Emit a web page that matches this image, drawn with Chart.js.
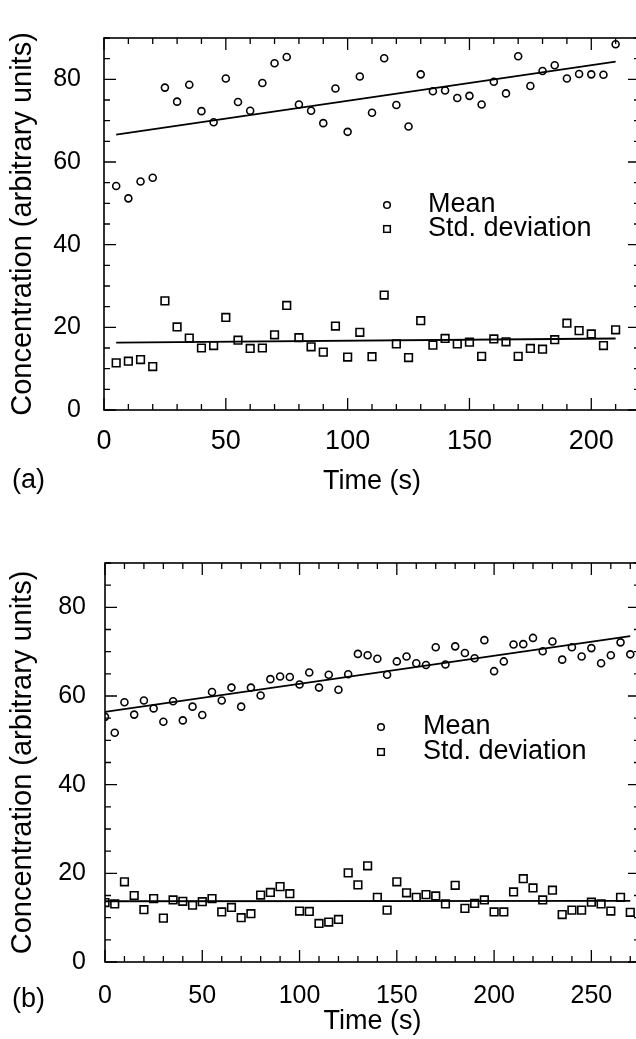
<!DOCTYPE html>
<html>
<head>
<meta charset="utf-8">
<title>Concentration vs time</title>
<script src="https://cdn.jsdelivr.net/npm/chart.js@4.4.1/dist/chart.umd.min.js"></script>
<style>
  html, body { margin: 0; padding: 0; background: #fff; overflow: hidden; }
  #wrap { position: relative; width: 636px; height: 1039px; overflow: hidden; }
  canvas { position: absolute; left: 0; }
</style>
</head>
<body>
<div id="wrap">
  <canvas id="chartA" width="660" height="510" style="top:0px"></canvas>
  <canvas id="chartB" width="660" height="519" style="top:520px"></canvas>
</div>
<script>
// panel (a)
var timeA = [5, 10, 15, 20, 25, 30, 35, 40, 45, 50, 55, 60, 65, 70, 75, 80, 85, 90, 95, 100, 105,
             110, 115, 120, 125, 130, 135, 140, 145, 150, 155, 160, 165, 170, 175, 180, 185, 190, 195, 200, 205, 210];
var meanA = [54.2, 51.2, 55.3, 56.2, 78.0, 74.6, 78.7, 72.3, 69.6, 80.2, 74.5, 72.4, 79.1, 83.9, 85.4, 73.9, 72.4, 69.4, 77.8, 67.3, 80.7,
             71.9, 85.1, 73.8, 68.6, 81.2, 77.1, 77.3, 75.5, 76.0, 73.9, 79.4, 76.6, 85.6, 78.4, 82.0, 83.4, 80.2, 81.3, 81.2, 81.1, 88.5];
var stdA  = [11.4, 11.8, 12.2, 10.5, 26.4, 20.1, 17.4, 15.0, 15.6, 22.4, 16.9, 14.9, 15.0, 18.2, 25.3, 17.5, 15.3, 14.0, 20.3, 12.8, 18.8,
             12.9, 27.8, 16.0, 12.7, 21.6, 15.7, 17.3, 16.0, 16.4, 13.0, 17.2, 16.5, 13.0, 14.9, 14.7, 17.0, 21.0, 19.2, 18.4, 15.6, 19.4];
var fitTimeA = [5, 210];
var fitMeanA = [66.6, 84.3];
var fitStdA  = [16.3, 17.3];
var xTicksA = [0, 50, 100, 150, 200];

// panel (b)
var timeB = [0, 5, 10, 15, 20, 25, 30, 35, 40, 45, 50, 55, 60, 65, 70, 75, 80, 85, 90, 95, 100, 105, 110, 115, 120, 125, 130,
             135, 140, 145, 150, 155, 160, 165, 170, 175, 180, 185, 190, 195, 200, 205, 210, 215, 220, 225, 230, 235, 240, 245, 250, 255, 260, 265, 270];
var meanB = [55.3, 51.7, 58.6, 55.8, 59.0, 57.2, 54.2, 58.8, 54.5, 57.6, 55.7, 60.9, 59.0, 61.9, 57.6, 61.9, 60.1, 63.8, 64.4, 64.3, 62.6, 65.3, 61.9, 64.8, 61.4, 64.9, 69.5,
             69.2, 68.4, 64.8, 67.8, 68.9, 67.4, 67.0, 71.0, 67.1, 71.2, 69.7, 68.5, 72.6, 65.6, 67.8, 71.6, 71.7, 73.1, 70.1, 72.3, 68.2, 71.0, 68.9, 70.8, 67.4, 69.2, 72.1, 69.4];
var stdB  = [13.4, 13.1, 18.1, 15.0, 11.8, 14.3, 9.9, 14.0, 13.7, 12.8, 13.6, 14.3, 11.3, 12.3, 10.0, 10.9, 15.1, 15.7, 17.0, 15.4, 11.5, 11.4, 8.7, 9.0, 9.6, 20.1, 17.4,
             21.7, 14.6, 11.7, 18.1, 15.6, 14.6, 15.2, 14.9, 13.1, 17.3, 12.1, 13.2, 14.0, 11.3, 11.3, 15.8, 18.8, 16.7, 14.0, 16.2, 10.7, 11.7, 11.7, 13.5, 13.1, 11.5, 14.6, 11.2];
var fitTimeB = [0, 270];
var fitMeanB = [56.4, 73.5];
var fitStdB  = [13.7, 13.8];
var xTicksB = [0, 50, 100, 150, 200, 250];

var yTicks = [0, 20, 40, 60, 80];

Chart.defaults.font.family = "'Liberation Sans', Arial, Helvetica, sans-serif";
Chart.defaults.color = '#000';

function pts(xs, ys) {
  return xs.map(function(v, i) { return {x: v, y: ys[i]}; });
}

// frame with inward ticks on all four sides, legend and panel letter
var panelDecor = {
  id: 'panelDecor',
  beforeDatasetsDraw: function(chart, args, o) {
    var ctx = chart.ctx, a = chart.chartArea, x = chart.scales.x, y = chart.scales.y;
    ctx.save();
    ctx.strokeStyle = '#000';
    ctx.lineWidth = 1.6;
    ctx.strokeRect(a.left, a.top, a.right - a.left, a.bottom - a.top);
    ctx.beginPath();
    for (var v = 0; v <= x.max; v += 10) {
      var px = x.getPixelForValue(v);
      var len = v % 50 === 0 ? 12 : 6;
      ctx.moveTo(px, a.bottom); ctx.lineTo(px, a.bottom - len);
      ctx.moveTo(px, a.top); ctx.lineTo(px, a.top + len);
    }
    for (var w = 0; w <= y.max; w += 5) {
      var py = y.getPixelForValue(w);
      var l2 = w % 20 === 0 ? 12 : 6;
      ctx.moveTo(a.left, py); ctx.lineTo(a.left + l2, py);
      ctx.moveTo(a.right, py); ctx.lineTo(a.right - l2, py);
    }
    ctx.lineWidth = 1.3;
    ctx.stroke();
    ctx.restore();
  },
  afterDraw: function(chart, args, o) {
    var ctx = chart.ctx;
    ctx.save();
    ctx.strokeStyle = '#000';
    ctx.fillStyle = '#000';
    ctx.lineWidth = 1.5;
    ctx.beginPath();
    ctx.arc(o.legX, o.legY, 3.3, 0, Math.PI * 2);
    ctx.stroke();
    ctx.strokeRect(o.legX - 3.3, o.legY + o.legGap - 3.3, 6.6, 6.6);
    ctx.font = "27px 'Liberation Sans', Arial, sans-serif";
    ctx.textBaseline = 'middle';
    ctx.fillText('Mean', o.legTextX, o.legY);
    ctx.fillText('Std. deviation', o.legTextX, o.legY + o.legGap);
    ctx.fillText(o.letter, o.letterX, o.letterY);
    ctx.restore();
  }
};

function makeChart(id, c) {
  return new Chart(document.getElementById(id), {
    type: 'scatter',
    data: {
      datasets: [
        { label: 'Mean', data: pts(c.time, c.mean), pointStyle: 'circle', pointRadius: 3.5,
          borderColor: '#000', backgroundColor: 'rgba(0,0,0,0)', borderWidth: 1.6 },
        { label: 'Std. deviation', data: pts(c.time, c.std), pointStyle: 'rect', pointRadius: 5.4,
          borderColor: '#000', backgroundColor: 'rgba(0,0,0,0)', borderWidth: 1.6 },
        { label: 'fit mean', data: pts(c.fitTime, c.fitMean), showLine: true, pointRadius: 0,
          borderColor: '#000', borderWidth: 1.8 },
        { label: 'fit std', data: pts(c.fitTime, c.fitStd), showLine: true, pointRadius: 0,
          borderColor: '#000', borderWidth: 1.8 }
      ]
    },
    options: {
      responsive: false,
      animation: false,
      events: [],
      layout: { padding: { top: c.padTop, right: 20, bottom: 0, left: 0 } },
      plugins: {
        legend: { display: false },
        tooltip: { enabled: false },
        panelDecor: c.decor
      },
      scales: {
        x: {
          type: 'linear', min: 0, max: c.xMax,
          grid: { display: false, drawTicks: false },
          border: { display: false },
          afterBuildTicks: function(s) { s.ticks = c.xTicks.map(function(v) { return {value: v}; }); },
          afterFit: function(s) { s.height = c.xAxisH; },
          ticks: { font: { size: c.xTickSize }, padding: c.xTickPad, maxRotation: 0, autoSkip: false },
          title: { display: true, text: 'Time (s)', font: { size: 27 }, padding: { top: 0, bottom: c.xTitlePad } }
        },
        y: {
          type: 'linear', min: 0, max: 90,
          grid: { display: false, drawTicks: false },
          border: { display: false },
          afterBuildTicks: function(s) { s.ticks = yTicks.map(function(v) { return {value: v}; }); },
          afterFit: function(s) { s.width = c.yAxisW; },
          ticks: { font: { size: 25 }, padding: c.yTickPad },
          title: { display: true, text: 'Concentration (arbitrary units)', font: { size: 29 }, padding: { top: 6, bottom: 0 } }
        }
      }
    },
    plugins: [panelDecor]
  });
}

makeChart('chartA', {
  time: timeA, mean: meanA, std: stdA, fitTime: fitTimeA, fitMean: fitMeanA, fitStd: fitStdA,
  xTicks: xTicksA, xMax: 220, padTop: 10, xAxisH: 100, yAxisW: 104,
  xTickSize: 27, xTickPad: 15, xTitlePad: 12, yTickPad: 23,
  decor: { legX: 387, legY: 205, legGap: 24, legTextX: 428, letter: '(a)', letterX: 12, letterY: 481 }
});

makeChart('chartB', {
  time: timeB, mean: meanB, std: stdB, fitTime: fitTimeB, fitMean: fitMeanB, fitStd: fitStdB,
  xTicks: xTicksB, xMax: 275, padTop: 43, xAxisH: 77, yAxisW: 105,
  xTickSize: 25, xTickPad: 19, xTitlePad: 1, yTickPad: 19,
  decor: { legX: 381, legY: 207, legGap: 25, legTextX: 423, letter: '(b)', letterX: 12, letterY: 480 }
});
</script>
</body>
</html>
